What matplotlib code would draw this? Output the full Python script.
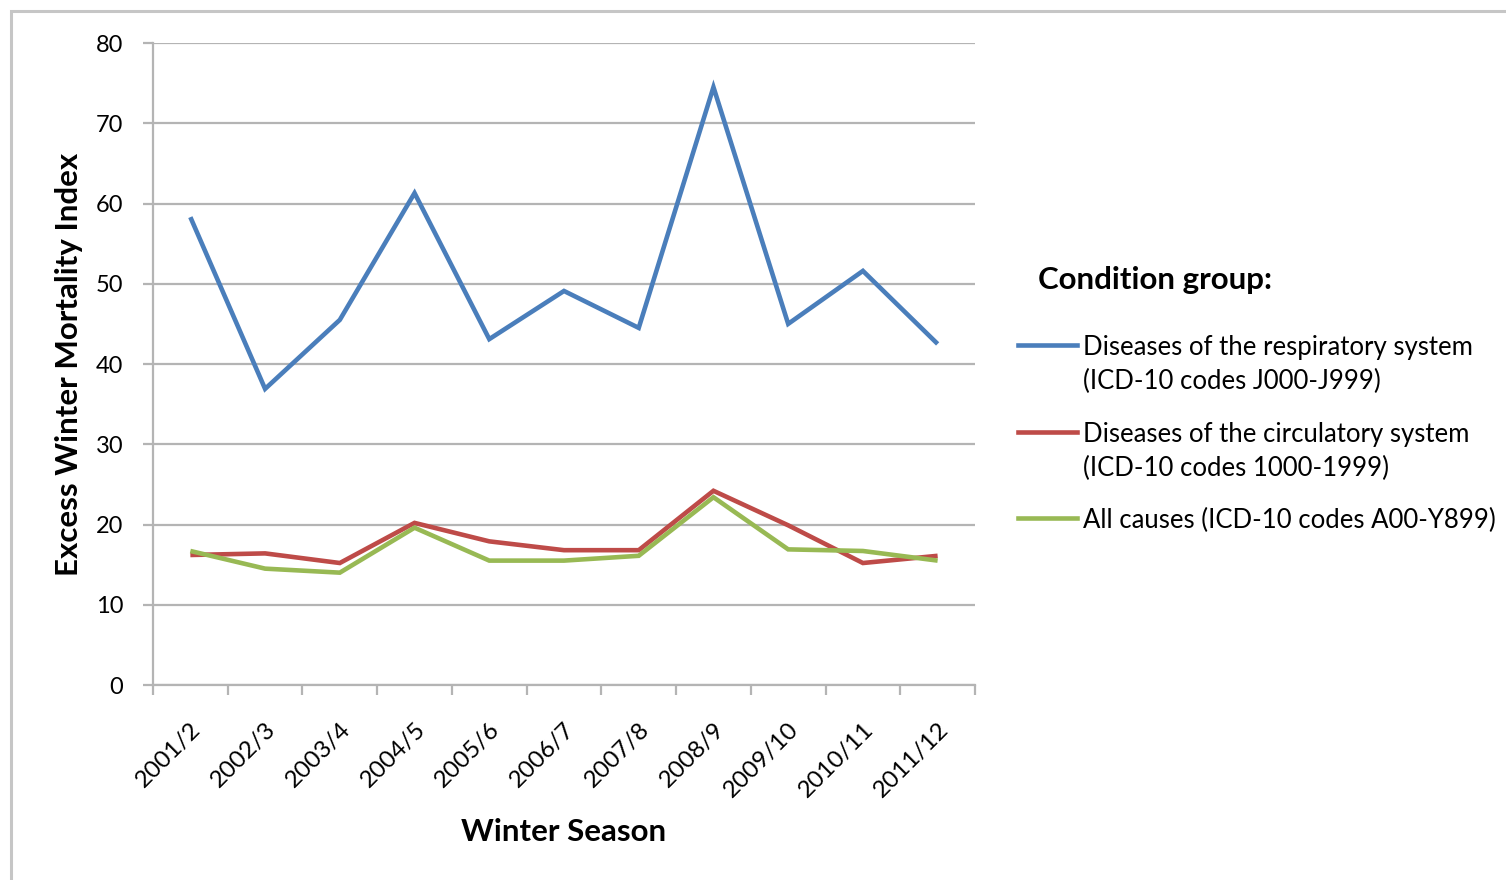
import matplotlib
matplotlib.use("Agg")
import matplotlib.pyplot as plt
from matplotlib.lines import Line2D
from matplotlib.patches import Rectangle
from matplotlib.transforms import ScaledTranslation
import numpy as np

plt.rcParams["font.family"] = ["Lato", "DejaVu Sans"]

SEASONS = ["2001/2", "2002/3", "2003/4", "2004/5", "2005/6", "2006/7",
           "2007/8", "2008/9", "2009/10", "2010/11", "2011/12"]
RESPIRATORY = [58.3, 36.9, 45.5, 61.3, 43.1, 49.1, 44.5, 74.5, 45.0, 51.6, 42.5]
CIRCULATORY = [16.2, 16.4, 15.2, 20.2, 17.9, 16.8, 16.8, 24.2, 19.9, 15.2, 16.1]
ALL_CAUSES = [16.7, 14.5, 14.0, 19.6, 15.5, 15.5, 16.1, 23.4, 16.9, 16.7, 15.5]

LABELS = ["Diseases of the respiratory system\n(ICD-10 codes J000-J999)",
          "Diseases of the circulatory system\n(ICD-10 codes 1000-1999)",
          "All causes (ICD-10 codes A00-Y899)"]
COLORS = ["#4a7ebb", "#be4b48", "#98b954"]

W, H = 1506, 880
fig = plt.figure(figsize=(W / 100, H / 100), dpi=100)
ax = fig.add_axes([153 / W, 1 - 685 / H, (975 - 153) / W, (685 - 43) / H])

x = np.arange(len(SEASONS))
for series, color in zip([RESPIRATORY, CIRCULATORY, ALL_CAUSES], COLORS):
    ax.plot(x, series, color=color, lw=3.3, solid_capstyle="butt",
            solid_joinstyle="miter", zorder=3)

grid_c = "#b4b4b4"
ax.set_xlim(-0.5, len(SEASONS) - 0.5)
ax.set_ylim(0, 80)
ax.set_yticks(np.arange(0, 81, 10))
ax.yaxis.grid(True, color=grid_c, lw=1.6)
ax.set_axisbelow(True)
for side in ["top", "right"]:
    ax.spines[side].set_visible(False)
for side in ["left", "bottom"]:
    ax.spines[side].set_color(grid_c)
    ax.spines[side].set_linewidth(1.6)

ax.set_xticks(x)
ax.set_xticklabels(SEASONS, rotation=45, ha="right", va="top",
                   rotation_mode="anchor")
shift = ScaledTranslation(-6 / 100, 0, fig.dpi_scale_trans)
for lab in ax.get_xticklabels():
    lab.set_transform(lab.get_transform() + shift)
ax.set_xticks(np.arange(-0.5, len(SEASONS)), minor=True)
ax.tick_params(axis="x", which="major", length=0, pad=24, labelsize=17.5)
ax.tick_params(axis="x", which="minor", length=7.5, width=1.6, color=grid_c)
ax.tick_params(axis="y", length=7.5, width=1.6, color=grid_c, pad=14,
               labelsize=17)

ax.set_xlabel("Winter Season", fontsize=22.5, fontweight="bold", labelpad=12)
ax.set_ylabel("Excess Winter Mortality Index", fontsize=22.5,
              fontweight="bold", labelpad=9)

# legend drawn by hand so the handle sits on the first line of each label
fig.text(1038 / W, 1 - 277 / H, "Condition group:", fontsize=22.5,
         fontweight="bold", va="center_baseline", ha="left")
rows = [345, 432, 518]
for label, color, yrow in zip(LABELS, COLORS, rows):
    yf = 1 - yrow / H
    fig.add_artist(Line2D([1018 / W, 1077 / W], [yf, yf], color=color,
                          lw=3.3, transform=fig.transFigure))
    for i, line in enumerate(label.split("\n")):
        fig.text(1083 / W, 1 - (yrow + 34 * i) / H, line, fontsize=18.5,
                 va="center_baseline", ha="left")

# light frame round the chart area
fig.add_artist(Rectangle((11 / W, -0.1), 1.2, 1 - 11 / H + 0.1,
                         transform=fig.transFigure, fill=False,
                         edgecolor="#c6c6c6", lw=2.2))

fig.savefig("out.png", dpi=100)
